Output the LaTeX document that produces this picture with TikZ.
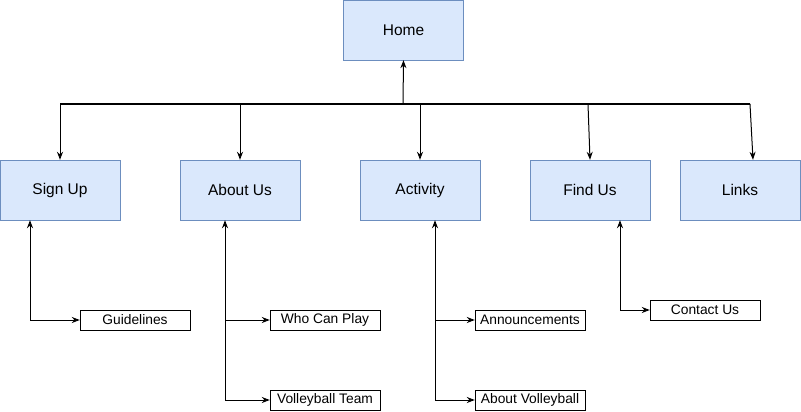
\documentclass[tikz,border=0pt]{standalone}
\usepackage{fontspec}
\setmainfont{Liberation Sans}
\usetikzlibrary{arrows.meta}
\definecolor{pagefill}{HTML}{DAE8FC}
\definecolor{pageline}{HTML}{6C8EBF}
\begin{document}
\begin{tikzpicture}[x=1pt,y=-1pt,
    page/.style = {draw=pageline, fill=pagefill, minimum width=120pt, minimum height=60pt, font=\fontsize{15.5}{18}\selectfont},
    subpage/.style = {draw=black, fill=white, minimum height=20pt, inner sep=2pt, font=\fontsize{13.8}{16}\selectfont},
    link/.style = {line width=1pt, -{Stealth[length=8pt,width=6pt]}},
    both/.style = {line width=1pt, {Stealth[length=8pt,width=6pt]}-{Stealth[length=8pt,width=6pt]}}]
    \useasboundingbox (0,0) rectangle (801,412);
    % main pages
    \node[page] (home) at (403.5,30) {Home};
    \node[page] (signup) at (60,190) {Sign Up};
    \node[page] (about) at (240,190) {About Us};
    \node[page] (activity) at (420,190) {Activity};
    \node[page] (findus) at (590,190) {Find Us};
    \node[page] (links) at (740,190) {Links};
    % sub pages
    \node[subpage, minimum width=110pt] (guide) at (135,320) {Guidelines};
    \node[subpage, minimum width=110pt] (who) at (325,320) {Who Can Play};
    \node[subpage, minimum width=110pt] (team) at (325,400) {Volleyball Team};
    \node[subpage, minimum width=110pt] (announce) at (530,320) {Announcements};
    \node[subpage, minimum width=110pt] (aboutvb) at (530,400) {About Volleyball};
    \node[subpage, minimum width=110pt] (contact) at (705,310) {Contact Us};
    % bus
    \coordinate (busL) at (60,104);
    \coordinate (busR) at (750,104);
    \draw[line width=2pt] (busL) -- (busR);
    \draw[link] (403,104) -- (home.south);
    \draw[link] (busL) -- (signup.north);
    \draw[link] (240,104) -- (about.north);
    \draw[link] (420,104) -- (activity.north);
    \draw[link] (588,104) -- (findus.north);
    \draw[link] (busR) -- ([xshift=13pt]links.north);
    % children
    \draw[both] ([xshift=-30pt]signup.south) |- (guide.west);
    \draw[both] ([xshift=-15pt]about.south) |- (team.west);
    \draw[link] ([xshift=-15pt]about.south |- who.west) -- (who.west);
    \draw[both] ([xshift=15pt]activity.south) |- (aboutvb.west);
    \draw[link] ([xshift=15pt]activity.south |- announce.west) -- (announce.west);
    \draw[both] ([xshift=30pt]findus.south) |- (contact.west);
\end{tikzpicture}
\end{document}
